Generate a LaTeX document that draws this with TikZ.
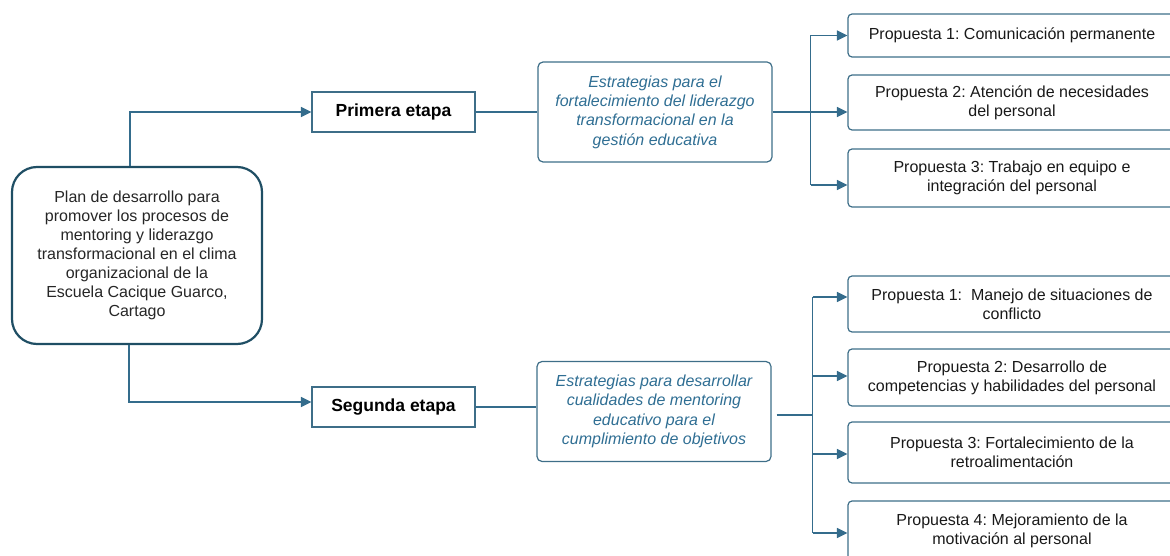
\documentclass[tikz,border=0pt]{standalone}
\usepackage{fontspec}
\setmainfont{Liberation Sans}
\usetikzlibrary{arrows.meta}
\frenchspacing

\definecolor{linkblue}{RGB}{52,108,140}
\definecolor{planblue}{RGB}{31,78,100}
\definecolor{boxblue}{RGB}{62,110,136}
\definecolor{textblue}{RGB}{47,110,147}

\tikzstyle{plan}=[draw=planblue,line width=2.2pt,rounded corners=25pt,minimum width=250pt,minimum height=177pt,align=center,text=black!85,font=\fontsize{16}{19}\selectfont]
\tikzstyle{etapa}=[draw=boxblue,line width=1.2pt,minimum width=163pt,minimum height=40pt,font=\fontsize{17.5}{20}\selectfont\bfseries]
\tikzstyle{estrategia}=[draw=boxblue,line width=1.2pt,rounded corners=5pt,minimum width=234pt,minimum height=100pt,align=center,text=textblue,font=\fontsize{16}{19.3}\selectfont\itshape]
\tikzstyle{propuesta}=[draw=boxblue,line width=1.2pt,rounded corners=4pt,minimum width=328pt,align=center,text=black!90,font=\fontsize{16}{19}\selectfont]
\tikzstyle{edge}=[draw=linkblue,line width=1.3pt]
\tikzstyle{link}=[edge,-{Triangle[length=10.5pt,width=10pt]}]

\begin{document}
\begin{tikzpicture}[x=1pt, y=-1pt]
    \clip (0,0) rectangle (1170,556);
    % The plan and the two stages
    \node[plan] (plan) at (137,255.5) {Plan de desarrollo para\\promover los procesos de\\mentoring y liderazgo\\transformacional en el clima\\organizacional de la\\Escuela Cacique Guarco,\\Cartago};
    \node[etapa] (primera) at (393.5,112) {Primera etapa};
    \node[etapa] (segunda) at (393.5,407) {Segunda etapa};
    \node[estrategia] (est1) at (655,112) {Estrategias para el\\fortalecimiento del liderazgo\\transformacional en la\\gestión educativa};
    \node[estrategia] (est2) at (654,411.5) {Estrategias para desarrollar\\cualidades de mentoring\\educativo para el\\cumplimiento de objetivos};

    % Then the proposals of each stage
    \foreach \pos/\h/\name/\txt in {{(1012,35.5)/43/p1/{Propuesta 1: Comunicación permanente}},
        {(1012,102.5)/55/p2/{Propuesta 2: Atención de necesidades\\del personal}},
        {(1012,178)/58/p3/{Propuesta 3: Trabajo en equipo e\\integración del personal}},
        {(1012,304)/56/q1/{Propuesta 1:\ \ Manejo de situaciones de\\conflicto}},
        {(1012,377.5)/57/q2/{Propuesta 2: Desarrollo de\\competencias y habilidades del personal}},
        {(1012,452.5)/61/q3/{Propuesta 3: Fortalecimiento de la\\retroalimentación}},
        {(1012,531)/60/q4/{Propuesta 4: Mejoramiento de la\\motivación al personal}}}
        \node[propuesta, minimum height=\h pt] (\name) at \pos {\txt};

    % Connect the plan with the stages
    \draw[link] ([xshift=-7pt]plan.north) |- (primera.west);
    \draw[link] ([xshift=-8pt]plan.south) |- ([yshift=5pt]segunda.west);
    \path[edge] (primera.east) -- (est1.west);
    \path[edge] (segunda.east) -- (segunda.east -| est2.west);

    % First stage fork
    \coordinate (fork1) at ([xshift=38pt]est1.east);
    \foreach \name/\dy in {p1/0,p3/-7}
        \coordinate (a\name) at ([yshift=\dy pt]\name.west);
    \draw[link] (est1.east) -- (est1.east -| p2.west);
    \path[edge] (fork1 |- ap1) -- (fork1 |- ap3);
    \foreach \name in {p1,p3}
        \draw[link] (fork1 |- a\name) -- (a\name);

    % Second stage fork
    \coordinate (fork2) at ([xshift=41pt,yshift=-3.5pt]est2.east);
    \foreach \name/\dy in {q1/7,q2/1.5,q3/-1.5,q4/-2}
        \coordinate (a\name) at ([yshift=\dy pt]\name.west);
    \path[edge] ([xshift=5pt,yshift=-3.5pt]est2.east) -- (fork2);
    \path[edge] (fork2 |- aq1) -- (fork2 |- aq4);
    \foreach \name in {q1,q2,q3,q4}
        \draw[link] (fork2 |- a\name) -- (a\name);
\end{tikzpicture}
\end{document}
